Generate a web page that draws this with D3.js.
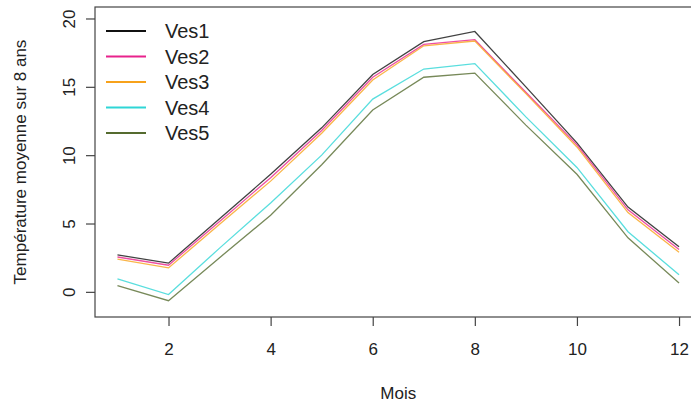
<!DOCTYPE html>
<html>
<head>
<meta charset="utf-8">
<script src="https://cdn.jsdelivr.net/npm/d3@7"></script>
<style>
  body { margin: 0; background: #fff; }
  svg { display: block; font-family: "Liberation Sans", Arial, sans-serif; }
</style>
</head>
<body>
<div id="graphique"></div>
<script>
// mois 1 a 12
const mois = [1, 2, 3, 4, 5, 6, 7, 8, 9, 10, 11, 12];
const ves1 = [2.7, 2.1, 5.35, 8.6, 12.0, 15.9, 18.3, 19.05, 15.0, 10.9, 6.2, 3.3];
const ves2 = [2.55, 1.95, 5.15, 8.35, 11.8, 15.7, 18.1, 18.45, 14.6, 10.75, 6.0, 3.1];
const ves3 = [2.4, 1.75, 4.95, 8.1, 11.6, 15.5, 18.0, 18.35, 14.5, 10.6, 5.8, 2.9];
const ves4 = [0.95, -0.2, 3.2, 6.5, 10.0, 14.1, 16.3, 16.7, 12.8, 9.1, 4.4, 1.25];
const ves5 = [0.45, -0.65, 2.5, 5.6, 9.3, 13.3, 15.7, 16.0, 12.2, 8.6, 3.95, 0.65];
const noms = ["Ves1", "Ves2", "Ves3", "Ves4", "Ves5"];
const couleurs = ["#111111", "#e8228c", "#f7a21b", "#2fd6d6", "#556b2f"];
const yTicks = [0, 5, 10, 15, 20];
const xTicks = [2, 4, 6, 8, 10, 12];

function AffichageGraph() {
    const width = 691, height = 403;
    const series = [ves1, ves2, ves3, ves4, ves5];

    const svg = d3.select("#graphique").append("svg")
        .attr("width", width)
        .attr("height", height);

    // ylim = c(-1, 20) avec l'extension de 4% de R
    const xScale = d3.scaleLinear().domain([0.56, 12.44]).range([95, 701.5]);
    const yScale = d3.scaleLinear().domain([-1.84, 20.84]).range([317, 7]);

    const line = d3.line()
        .x((d, i) => xScale(mois[i]))
        .y(d => yScale(d));

    // courbes
    svg.selectAll(".courbe")
        .data(series)
        .enter()
        .append("path")
        .attr("class", "courbe")
        .attr("d", line)
        .attr("fill", "none")
        .attr("stroke", (d, i) => couleurs[i])
        .attr("stroke-width", 1.3)
        .attr("stroke-opacity", 0.8);

    // cadre
    svg.append("rect")
        .attr("x", xScale.range()[0])
        .attr("y", yScale.range()[1])
        .attr("width", xScale.range()[1] - xScale.range()[0])
        .attr("height", yScale.range()[0] - yScale.range()[1])
        .attr("fill", "none")
        .attr("stroke", "#444")
        .attr("stroke-width", 1.2);

    // axe des abscisses
    const gx = svg.append("g")
        .attr("transform", `translate(0,${yScale.range()[0]})`)
        .call(d3.axisBottom(xScale).tickValues(xTicks).tickSize(9).tickPadding(17).tickSizeOuter(0));
    gx.select(".domain").remove();
    gx.selectAll("line").attr("stroke", "#444").attr("stroke-width", 1.2);
    gx.selectAll("text")
        .style("font-size", "17px")
        .style("fill", "#222");

    // axe des ordonnees, etiquettes verticales comme dans R
    const gy = svg.append("g")
        .attr("transform", `translate(${xScale.range()[0]},0)`)
        .call(d3.axisLeft(yScale).tickValues(yTicks).tickSize(9).tickSizeOuter(0));
    gy.select(".domain").remove();
    gy.selectAll("line").attr("stroke", "#444").attr("stroke-width", 1.2);
    gy.selectAll("text")
        .attr("x", 0)
        .attr("dy", 0)
        .attr("transform", "translate(-26,0) rotate(-90)")
        .attr("text-anchor", "middle")
        .attr("dominant-baseline", "central")
        .style("font-size", "17px")
        .style("fill", "#222");

    // titres des axes
    svg.append("text")
        .attr("x", (xScale.range()[0] + xScale.range()[1]) / 2)
        .attr("y", 399)
        .attr("text-anchor", "middle")
        .style("font-size", "17px")
        .style("fill", "#222")
        .text("Mois");

    svg.append("text")
        .attr("transform", `translate(26,${(yScale.range()[0] + yScale.range()[1]) / 2}) rotate(-90)`)
        .attr("text-anchor", "middle")
        .style("font-size", "17px")
        .style("fill", "#222")
        .text("Température moyenne sur 8 ans");

    // legende
    const legende = svg.selectAll(".legende")
        .data(noms)
        .enter()
        .append("g")
        .attr("class", "legende")
        .attr("transform", (d, i) => `translate(106,${31 + i * 25.5})`);

    legende.append("line")
        .attr("x1", 0)
        .attr("x2", 40)
        .attr("stroke", (d, i) => couleurs[i])
        .attr("stroke-width", 2.2);

    legende.append("text")
        .attr("x", 59)
        .attr("dy", "0.36em")
        .style("font-size", "20px")
        .style("fill", "#222")
        .text(d => d);
}

AffichageGraph();
</script>
</body>
</html>
